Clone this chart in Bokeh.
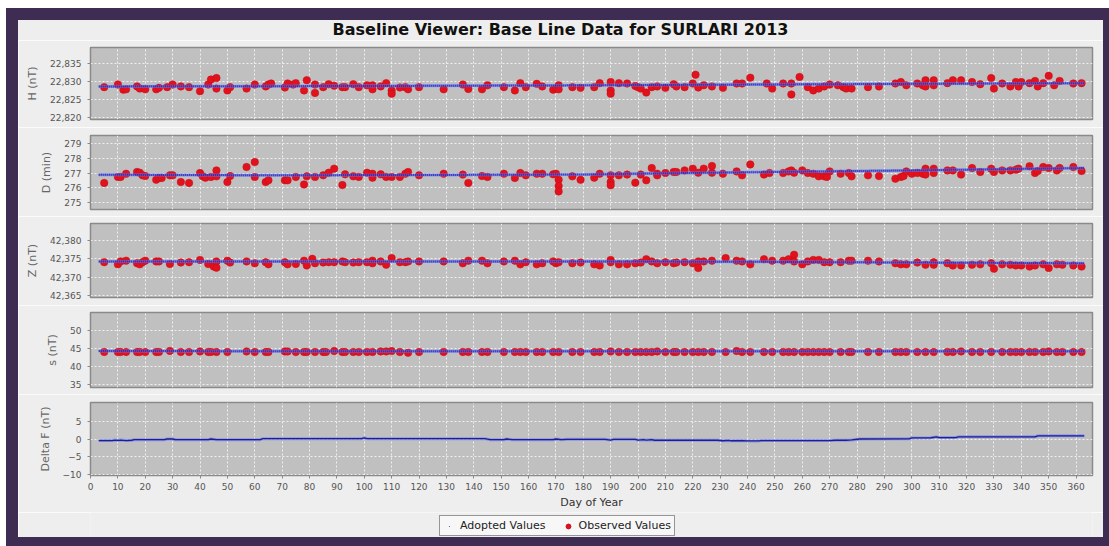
from bokeh.plotting import figure
from bokeh.models import (Range1d, FixedTicker, NumeralTickFormatter, Legend,
                          LegendItem, Div)
from bokeh.layouts import column, row
from bokeh.embed import file_html
from bokeh.resources import INLINE

TITLE = "Baseline Viewer: Base Line Data for SURLARI 2013"
X_LABEL = "Day of Year"
day_ticks = list(range(0, 361, 10))

# ---------------- H (nT) ----------------
h_ticks = [22820, 22825, 22830, 22835]
h_days = [5, 10, 12, 13, 17, 18, 20, 24, 25, 28, 30, 33, 36, 40, 43, 44, 46, 46, 50, 51,
          57, 60, 64, 65, 66, 71, 72, 74, 75, 78, 79, 82, 82, 85, 87, 89, 92, 93, 96, 98,
          101, 103, 103, 106, 108, 110, 110, 113, 115, 116, 120, 129, 136, 138, 143, 145,
          151, 155, 157, 159, 163, 165, 169, 170, 171, 171, 176, 179,
          184, 186, 190, 190, 190, 193, 196, 199, 200, 201, 203, 205, 207, 210, 213, 214,
          217, 220, 221, 222, 224, 227, 231, 236, 238, 241, 247, 249, 253, 256, 256, 259,
          262, 264, 266, 268, 270, 273, 275, 276, 278, 284, 288, 294, 296, 298, 302, 304,
          305, 305, 308, 308, 313, 315, 318, 322, 325, 329, 330, 333, 336, 338, 339, 340,
          343, 345, 346, 348, 350, 352, 354, 359, 362]
h_obs = [22828.4, 22829.1, 22827.7, 22827.8, 22828.6, 22828.0, 22827.8, 22827.8, 22828.2, 22828.4,
         22829.1, 22828.6, 22828.4, 22827.3, 22829.1, 22830.5, 22830.9, 22828.0, 22827.5, 22828.4,
         22828.0, 22829.1, 22828.6, 22829.1, 22829.4, 22828.3, 22829.4, 22829.1, 22829.5, 22827.5,
         22830.3, 22826.8, 22829.1, 22828.4, 22829.2, 22828.8, 22828.4, 22828.4, 22829.2, 22828.4,
         22828.9, 22828.9, 22827.8, 22828.6, 22829.5, 22827.5, 22826.6, 22828.3, 22828.4, 22827.8,
         22828.4, 22827.8, 22829.1, 22827.9, 22827.8, 22828.9, 22828.4, 22827.5, 22829.5, 22828.4,
         22829.3, 22828.6, 22827.7, 22828.0, 22828.9, 22827.8, 22828.4, 22828.2,
         22828.4, 22829.5, 22829.8, 22827.5, 22826.6, 22829.5, 22829.4, 22828.7, 22828.4, 22828.0,
         22826.9, 22828.4, 22828.6, 22828.2, 22829.2, 22828.6, 22828.4, 22829.4, 22831.8, 22828.3,
         22828.9, 22828.6, 22828.2, 22829.4, 22829.4, 22831.0, 22829.4, 22828.0, 22829.4, 22829.4,
         22826.4, 22831.2, 22828.4, 22827.5, 22828.0, 22828.6, 22829.1, 22828.9, 22828.4, 22828.0,
         22828.0, 22828.4, 22828.6, 22829.4, 22829.8, 22828.9, 22829.4, 22828.9, 22830.3, 22828.6,
         22830.3, 22828.9, 22829.5, 22830.3, 22830.3, 22829.8, 22829.2, 22830.9, 22828.0, 22829.4,
         22828.6, 22829.8, 22828.6, 22829.8, 22829.5, 22830.1, 22828.6, 22829.5, 22831.5, 22828.9,
         22830.1, 22829.4, 22829.5]
h_adopt_days = [3, 60, 120, 180, 240, 300, 363]
h_adopt = [22828.6, 22828.65, 22828.75, 22828.9, 22829.1, 22829.3, 22829.5]

# ---------------- D (min) ----------------
d_ticks = [275, 276, 277, 278, 279]
d_days = [5, 10, 11, 13, 17, 18, 19, 20, 24, 25, 26, 29, 30, 33, 36, 40, 41, 42, 44, 46,
          46, 50, 51, 57, 60, 60, 64, 65, 71, 72, 75, 78, 79, 82, 85, 87, 89, 92, 93, 96,
          98, 101, 103, 103, 106, 108, 110, 113, 115, 116, 120, 129, 136, 138, 143, 145,
          151, 155, 157, 159, 163, 165, 169, 170, 171, 171, 171, 176, 179,
          184, 186, 190, 190, 190, 193, 196, 199, 201, 203, 205, 207, 207, 210, 213, 214,
          217, 220, 222, 224, 227, 227, 231, 236, 238, 241, 246, 248, 253, 255, 256, 257,
          260, 262, 264, 266, 268, 269, 270, 274, 277, 278, 284, 288, 294, 296, 297, 298,
          300, 302, 304, 305, 305, 308, 308, 313, 315, 318, 322, 325, 329, 330, 333, 336,
          338, 339, 343, 345, 346, 348, 350, 353, 354, 359, 362]
d_obs = [276.32, 276.73, 276.73, 276.95, 277.07, 277.02, 276.84, 276.79, 276.54, 276.66,
         276.66, 276.84, 276.84, 276.38, 276.32, 277.00, 276.77, 276.68, 276.73, 277.18,
         276.77, 276.38, 276.79, 277.41, 277.75, 276.73, 276.38, 276.50, 276.50, 276.50,
         276.73, 276.22, 276.77, 276.73, 276.84, 277.02, 277.30, 276.18, 276.91, 276.77,
         276.73, 277.02, 276.95, 276.68, 276.91, 276.73, 276.73, 276.73, 276.95, 277.07,
         276.84, 276.95, 276.89, 276.32, 276.79, 276.73, 276.95, 276.66, 277.00, 276.84,
         276.95, 276.95, 276.91, 276.95, 276.54, 276.11, 275.74, 276.77, 276.54,
         276.68, 276.95, 276.84, 276.38, 276.16, 276.84, 276.89, 276.34, 276.89, 276.50,
         277.34, 276.95, 276.84, 277.00, 277.07, 277.07, 277.18, 277.30, 277.02, 277.30,
         277.48, 277.02, 276.95, 277.11, 276.84, 277.59, 276.89, 277.00, 277.00, 277.11,
         277.18, 277.02, 277.18, 277.00, 276.95, 276.77, 276.77, 276.73, 277.11, 276.95,
         277.00, 276.77, 276.84, 276.79, 276.61, 276.73, 276.79, 277.11, 276.95, 277.00,
         276.95, 277.30, 276.89, 277.30, 277.00, 277.18, 277.18, 276.89, 277.34, 277.07,
         277.30, 277.07, 277.18, 277.18, 277.23, 277.30, 277.46, 277.00, 277.14, 277.41,
         277.34, 277.18, 277.34, 277.41, 277.14]
d_adopt_days = [3, 60, 120, 180, 210, 240, 300, 363]
d_adopt = [276.88, 276.85, 276.86, 276.90, 276.98, 277.05, 277.18, 277.34]

# ---------------- Z (nT) ----------------
z_ticks = [42365, 42370, 42375, 42380]
z_days = [5, 10, 11, 13, 17, 18, 19, 20, 24, 25, 29, 33, 36, 40, 43, 45, 46, 46, 50, 51,
          57, 60, 64, 65, 71, 72, 75, 78, 79, 81, 82, 85, 87, 89, 92, 93, 96, 98, 101, 103,
          103, 106, 108, 110, 113, 115, 116, 120, 129, 136, 138, 143, 145, 151, 155, 157,
          159, 163, 165, 169, 170, 171, 176, 179,
          184, 186, 190, 190, 193, 196, 199, 201, 203, 205, 207, 210, 213, 214, 217, 220,
          222, 222, 224, 227, 232, 236, 238, 241, 246, 249, 253, 255, 257, 257, 260, 262,
          264, 266, 268, 270, 274, 277, 278, 284, 288, 294, 296, 298, 302, 305, 308, 308,
          313, 315, 318, 322, 325, 329, 330, 333, 336, 338, 340, 343, 345, 348, 350, 353,
          355, 359, 362]
z_obs = [42374.1, 42373.5, 42374.3, 42374.5, 42373.8, 42373.5, 42374.1, 42374.5, 42374.3, 42374.3,
         42373.6, 42374.0, 42374.1, 42374.7, 42373.6, 42372.9, 42372.6, 42374.3, 42374.5, 42374.0,
         42374.3, 42373.8, 42374.1, 42373.5, 42374.1, 42373.5, 42373.6, 42374.5, 42373.2, 42375.0,
         42373.8, 42374.0, 42374.1, 42374.1, 42374.3, 42374.1, 42374.0, 42374.1, 42374.1, 42374.5,
         42373.8, 42374.3, 42373.4, 42375.2, 42374.1, 42374.1, 42374.3, 42374.3, 42374.3, 42373.8,
         42374.5, 42374.5, 42373.8, 42374.3, 42374.5, 42373.5, 42374.1, 42373.5, 42373.8, 42374.3,
         42373.8, 42374.1, 42373.8, 42374.0,
         42373.5, 42373.2, 42374.7, 42374.1, 42373.5, 42373.5, 42373.8, 42374.0, 42374.9, 42374.3,
         42373.8, 42374.1, 42373.8, 42374.0, 42374.1, 42373.8, 42374.3, 42372.5, 42374.3, 42374.5,
         42375.2, 42374.5, 42374.3, 42373.5, 42374.9, 42374.5, 42374.5, 42374.9, 42376.1, 42374.3,
         42373.5, 42374.3, 42374.7, 42374.7, 42374.1, 42374.1, 42374.1, 42374.5, 42374.5, 42374.5,
         42374.3, 42373.8, 42373.5, 42373.5, 42374.0, 42373.4, 42373.4, 42374.1, 42373.8, 42373.2,
         42373.2, 42373.4, 42373.5, 42373.8, 42372.3, 42373.5, 42373.4, 42373.2, 42373.2, 42372.9,
         42373.2, 42373.5, 42372.5, 42373.5, 42373.4, 42373.2, 42372.9]
z_adopt_days = [3, 120, 180, 240, 300, 363]
z_adopt = [42374.3, 42374.3, 42374.3, 42374.2, 42374.0, 42373.8]

# ---------------- s (nT) ----------------
s_ticks = [35, 40, 45, 50]
s_days = [5, 10, 11, 13, 17, 18, 20, 24, 25, 29, 33, 36, 40, 43, 44, 46, 50, 57, 60, 64,
          65, 71, 72, 75, 78, 79, 82, 85, 86, 89, 92, 93, 96, 98, 101, 103, 106, 108, 110,
          113, 116, 120, 129, 136, 138, 143, 145, 151, 155, 157, 159, 163, 165, 169, 171,
          176, 179,
          184, 186, 190, 193, 196, 199, 201, 203, 205, 207, 210, 213, 214, 217, 220, 222,
          224, 227, 232, 236, 238, 241, 246, 249, 253, 255, 257, 260, 262, 264, 266, 268,
          270, 274, 277, 278, 284, 288, 294, 296, 298, 302, 305, 308, 313, 315, 318, 322,
          325, 329, 333, 336, 338, 340, 343, 345, 348, 350, 353, 355, 359, 362]
s_obs = [44.1, 44.1, 44.1, 44.1, 44.1, 44.1, 44.1, 44.1, 44.1, 44.4, 44.1, 44.1, 44.25, 44.1,
         44.1, 44.1, 44.1, 44.25, 44.1, 44.1, 44.1, 44.25, 44.25, 44.1, 44.1, 44.1, 44.1, 44.1,
         44.1, 44.35, 44.1, 44.1, 44.1, 44.1, 44.1, 44.1, 44.25, 44.25, 44.35, 44.1, 43.9, 44.1,
         44.1, 44.1, 44.1, 44.1, 44.1, 44.1, 44.1, 44.1, 44.1, 44.1, 44.1, 44.1, 44.1, 44.1, 44.1,
         44.1, 44.1, 44.25, 44.1, 44.1, 44.1, 44.1, 44.1, 44.1, 44.25, 44.1, 44.1, 44.1, 44.1,
         44.1, 44.1, 44.1, 44.1, 44.1, 44.35, 44.1, 44.1, 44.1, 44.1, 44.1, 44.1, 44.1, 44.1,
         44.1, 44.1, 44.1, 44.1, 44.1, 44.1, 44.1, 44.1, 44.1, 44.1, 44.1, 44.1, 44.1, 44.1,
         44.1, 44.1, 44.1, 44.1, 44.25, 44.1, 44.1, 44.1, 44.1, 44.1, 44.1, 44.1, 44.1, 44.1,
         44.1, 44.25, 44.1, 44.1, 44.1, 44.1, 44.1]
s_adopt_days = [3, 180, 363]
s_adopt = [44.35, 44.3, 44.28]

# ---------------- Delta F (nT) ----------------
f_ticks = [-10, -5, 0, 5]
f_days = [3, 8, 9, 10, 11, 13, 15, 16, 27, 28, 30, 31, 43, 44, 46, 62, 63, 99, 100, 101,
          144, 146, 151, 152, 154, 169, 170, 172, 174, 188, 190, 191, 199, 200, 202, 203,
          205, 206, 229, 231, 233, 234, 238, 240, 244, 245, 270, 272, 276, 278, 281, 299,
          300, 307, 309, 310, 316, 317, 345, 346, 363]
f_vals = [-0.45, -0.45, -0.3, -0.4, -0.3, -0.45, -0.35, -0.2, -0.2, 0.0, 0.0, -0.2, -0.2, 0.0,
          -0.2, -0.2, 0.1, 0.1, 0.3, 0.1, 0.1, -0.2, -0.2, 0.0, -0.2, -0.2, 0.0, -0.2, -0.1,
          -0.1, -0.3, -0.1, -0.1, -0.3, -0.2, -0.3, -0.2, -0.35, -0.35, -0.5, -0.4, -0.5, -0.45,
          -0.55, -0.55, -0.45, -0.45, -0.35, -0.35, -0.25, 0.0, 0.05, 0.3, 0.35, 0.6, 0.4,
          0.4, 0.6, 0.6, 0.9, 0.9]

# legend-only marker (outside the visible legend strip range)
legend_dummy_x = [-1]
legend_dummy_y = [-1]

# ---------------- styling ----------------
PANEL_BG = "#eeeeee"
FRAME_PURPLE = "#3e2c52"
PLOT_BG = "#c0c0c0"
RED = "#e2121c"
LIGHT_BLUE = "#6878ff"
NAVY = "#1c1ca8"
FONT = "DejaVu Sans"

X_RANGE = Range1d(0, 366)
FIG_W = 1085


def make_panel(label, ticks, yr, top, frame_h, bottom, comma=False):
    p = figure(width=FIG_W, height=top + frame_h + bottom, x_range=X_RANGE,
               y_range=Range1d(*yr), output_backend="svg", toolbar_location=None,
               title=None, min_border_left=72, min_border_right=11,
               min_border_top=top, min_border_bottom=bottom, margin=0)
    p.background_fill_color = PLOT_BG
    p.border_fill_color = PANEL_BG
    p.outline_line_color = "#8a8a8a"
    p.outline_line_width = 1.5
    p.yaxis.ticker = FixedTicker(ticks=ticks)
    if comma:
        p.yaxis.formatter = NumeralTickFormatter(format="0,0")
    p.yaxis.axis_label = label
    p.yaxis.axis_label_text_font = FONT
    p.yaxis.axis_label_text_font_size = "11px"
    p.yaxis.axis_label_text_font_style = "normal"
    p.yaxis.axis_label_text_color = "#666666"
    p.yaxis.axis_label_standoff = 8
    p.yaxis.major_label_text_font = FONT
    p.yaxis.major_label_text_font_size = "9px"
    p.yaxis.major_label_text_color = "#555555"
    p.yaxis.major_label_standoff = 6
    p.yaxis.major_tick_out = 3
    p.yaxis.major_tick_in = 0
    p.yaxis.minor_tick_line_color = None
    p.yaxis.axis_line_color = "#8a8a8a"
    p.yaxis.major_tick_line_color = "#8a8a8a"
    p.xgrid.ticker = FixedTicker(ticks=day_ticks)
    p.ygrid.ticker = FixedTicker(ticks=ticks)
    for g in (p.xgrid, p.ygrid):
        g.grid_line_color = "white"
        g.grid_line_dash = "2 2"
        g.grid_line_alpha = 0.75
        g.grid_line_width = 1
    return p


def add_series(p, days, obs, adays, avals):
    p.scatter(days, obs, marker="circle", size=7.5, fill_color=RED, line_color="#c80c14",
              line_width=0.5)
    p.line(adays, avals, line_color=LIGHT_BLUE, line_width=3, line_alpha=0.65)
    p.line(adays, avals, line_color=NAVY, line_width=2, line_dash="1 1", line_alpha=0.95)


pH = make_panel("H (nT)", h_ticks, (22819.5, 22839.3), 7, 72, 8, comma=True)
add_series(pH, h_days, h_obs, h_adopt_days, h_adopt)
pD = make_panel("D (min)", d_ticks, (274.5, 279.57), 8, 74, 7)
add_series(pD, d_days, d_obs, d_adopt_days, d_adopt)
pZ = make_panel("Z (nT)", z_ticks, (42364.5, 42384.6), 7, 74, 8, comma=True)
add_series(pZ, z_days, z_obs, z_adopt_days, z_adopt)
pS = make_panel("s (nT)", s_ticks, (34.3, 55.0), 7, 75, 7)
add_series(pS, s_days, s_obs, s_adopt_days, s_adopt)
pF = make_panel("Delta F (nT)", f_ticks, (-10.3, 10.3), 8, 73, 37)
pF.line(f_days, f_vals, line_color=LIGHT_BLUE, line_width=3, line_alpha=0.6)
pF.line(f_days, f_vals, line_color="#1e1e8c", line_width=1.3)

for p in (pH, pD, pZ, pS):
    p.xaxis.visible = False

ax = pF.xaxis[0]
ax.ticker = FixedTicker(ticks=day_ticks)
ax.axis_label = X_LABEL
ax.axis_label_text_font = FONT
ax.axis_label_text_font_size = "11px"
ax.axis_label_text_font_style = "normal"
ax.axis_label_text_color = "#333333"
ax.axis_label_standoff = 3
ax.major_label_text_font = FONT
ax.major_label_text_font_size = "9px"
ax.major_label_text_color = "#555555"
ax.major_label_standoff = 4
ax.major_tick_out = 3
ax.major_tick_in = 0
ax.minor_tick_line_color = None
ax.axis_line_color = "#8a8a8a"
ax.major_tick_line_color = "#8a8a8a"

# legend strip (frame aligned with the panels above)
pL = figure(width=FIG_W, height=25, x_range=Range1d(0, 1), y_range=Range1d(0, 1),
            output_backend="svg", toolbar_location=None, title=None, margin=0,
            min_border_left=72, min_border_right=11, min_border_top=0, min_border_bottom=0)
pL.axis.visible = False
pL.grid.visible = False
pL.outline_line_color = None
pL.background_fill_color = PANEL_BG
pL.border_fill_color = PANEL_BG
r_adopt = pL.scatter(x=legend_dummy_x, y=legend_dummy_y, marker="dot", size=20,
                     color="#4a4ac0")
r_obs = pL.scatter(x=legend_dummy_x, y=legend_dummy_y, marker="circle", size=7,
                   fill_color=RED, line_color="#c80c14")
legend = Legend(items=[LegendItem(label="Adopted Values", renderers=[r_adopt]),
                       LegendItem(label="Observed Values", renderers=[r_obs])],
                orientation="horizontal", location=(349, 1))
legend.margin = 0
legend.padding = 3
legend.spacing = 16
legend.glyph_width = 12
legend.glyph_height = 12
legend.label_standoff = 5
legend.label_height = 12
legend.label_text_font = FONT
legend.label_text_font_size = "11px"
legend.label_text_color = "#222222"
legend.border_line_color = "#333333"
legend.border_line_width = 1
legend.background_fill_color = "#f7f7f7"
legend.background_fill_alpha = 1
pL.add_layout(legend, "center")

title_div = Div(text=TITLE, width=FIG_W, height=20, margin=0,
                styles={"font-family": FONT, "font-size": "16px", "font-weight": "bold",
                        "text-align": "center", "line-height": "20px", "color": "#111111",
                        "background-color": PANEL_BG})

inner = column(title_div, pH, pD, pZ, pS, pF, pL, spacing=0, margin=0)


def bar(w, h, color):
    return Div(width=w, height=h, margin=0, styles={"background-color": color})


framed = column(bar(1103, 12, FRAME_PURPLE),
                row(bar(12, 517, FRAME_PURPLE), inner, bar(6, 517, FRAME_PURPLE),
                    spacing=0, margin=0),
                bar(1103, 9, FRAME_PURPLE), spacing=0, margin=0)
layout = column(bar(1109, 8, "white"),
                row(bar(6, 538, "white"), framed, spacing=0, margin=0),
                spacing=0, margin=0)

open("out.html", "w").write(file_html(layout, INLINE))
